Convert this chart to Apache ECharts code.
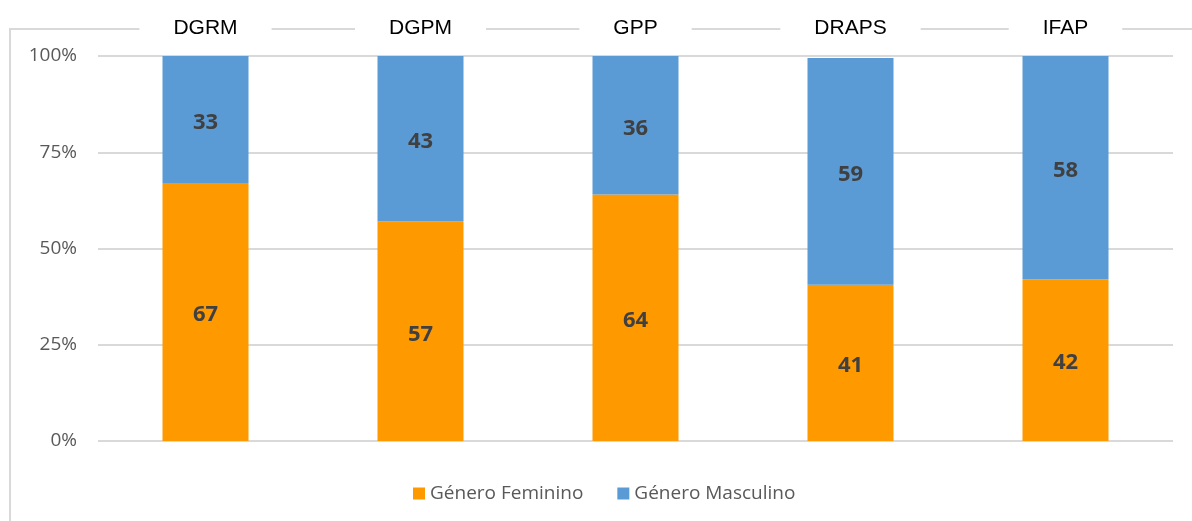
<!DOCTYPE html>
<html><head><meta charset="utf-8">
<script src="https://cdn.jsdelivr.net/npm/echarts@6/dist/echarts.min.js"></script>
<style>html,body{margin:0;padding:0;background:#fff}#c{width:1192px;height:521px}</style>
</head><body><div id="c"></div>
<script>
const categories = ['DGRM', 'DGPM', 'GPP', 'DRAPS', 'IFAP'];
const feminino = [67, 57, 64, 40.6, 42];
const masculino = [33, 43, 36, 58.9, 58];
const seriesNames = ['Género Feminino', 'Género Masculino'];
const yTicks = [0, 25, 50, 75, 100];

const chart = echarts.init(document.getElementById('c'));
const valueLabel = {
  show: true, position: 'inside', offset: [0, 3], color: '#404040', fontWeight: 'bold',
  fontFamily: 'Open Sans', fontSize: 22,
  formatter: p => Math.round(p.value)
};
chart.setOption({
  animation: false,
  backgroundColor: '#fff',
  graphic: [{
    type: 'rect', z: 0,
    shape: { x: 10, y: 29, width: 1300, height: 700 },
    style: { fill: 'none', stroke: '#d9d9d9', lineWidth: 2 }
  }],
  grid: { left: 98, right: 19, top: 56, bottom: 80 },
  legend: {
    left: 408, top: 479, itemWidth: 12, itemHeight: 12, itemGap: 34,
    icon: 'rect',
    textStyle: { color: '#595959', fontFamily: 'Open Sans', fontSize: 19 },
    data: seriesNames
  },
  xAxis: {
    type: 'category', position: 'top', data: categories, z: 10,
    axisLine: { show: false }, axisTick: { show: false },
    axisLabel: {
      color: '#000', fontFamily: 'Liberation Sans', fontSize: 21,
      backgroundColor: '#fff', padding: [6, 34, 6, 34], margin: 11
    }
  },
  yAxis: {
    type: 'value', min: yTicks[0], max: yTicks[yTicks.length - 1], interval: 25,
    axisLine: { show: false }, axisTick: { show: false },
    axisLabel: { formatter: '{value}%', color: '#595959', fontFamily: 'Open Sans', fontSize: 19, margin: 21 },
    splitLine: { lineStyle: { color: '#d9d9d9', width: 2 } }
  },
  series: [
    { name: seriesNames[0], type: 'bar', stack: 't', data: feminino, barWidth: '40%',
      itemStyle: { color: '#FF9900' }, label: valueLabel },
    { name: seriesNames[1], type: 'bar', stack: 't', data: masculino, barWidth: '40%',
      itemStyle: { color: '#5B9BD5' }, label: valueLabel }
  ]
});
</script></body></html>
